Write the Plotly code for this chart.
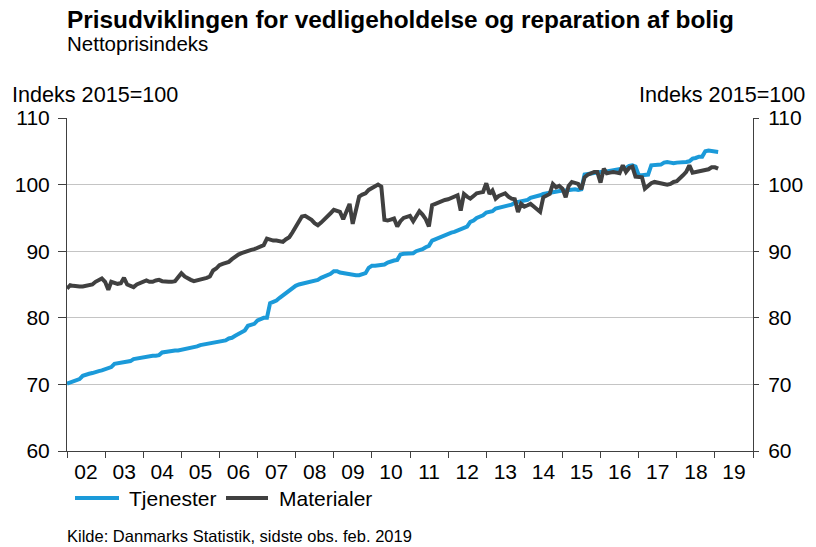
import pandas as pd
import plotly.graph_objects as go

# Monthly values, Jan 2002 - Feb 2019 (Indeks 2015=100)
tjenester_by_year = {
    2002: [70.1, 70.3, 70.4, 70.7, 70.8, 71.3, 71.5, 71.6, 71.7, 71.9, 72.0, 72.1],
    2003: [72.3, 72.4, 72.6, 73.1, 73.2, 73.3, 73.4, 73.5, 73.5, 73.8, 73.9, 74.0],
    2004: [74.1, 74.2, 74.3, 74.3, 74.3, 74.4, 74.8, 74.9, 74.9, 75.0, 75.1, 75.1],
    2005: [75.2, 75.2, 75.3, 75.5, 75.6, 75.7, 75.9, 76.0, 76.0, 76.1, 76.2, 76.3],
    2006: [76.4, 76.5, 76.6, 76.9, 77.0, 77.3, 77.6, 77.9, 78.1, 78.8, 79.0, 79.1],
    2007: [79.6, 79.9, 80.0, 80.0, 82.2, 82.4, 82.6, 83.0, 83.4, 83.6, 84.1, 84.5],
    2008: [84.8, 85.0, 85.1, 85.2, 85.3, 85.5, 85.6, 85.7, 86.0, 86.2, 86.4, 86.6],
    2009: [87.0, 87.0, 86.8, 86.7, 86.6, 86.5, 86.4, 86.4, 86.4, 86.6, 86.7, 87.5],
    2010: [87.8, 87.8, 87.9, 87.9, 88.0, 88.3, 88.5, 88.6, 88.7, 89.5, 89.6, 89.6],
    2011: [89.6, 89.7, 90.0, 90.1, 90.3, 90.6, 90.8, 91.6, 91.8, 92.0, 92.3, 92.4],
    2012: [92.6, 92.8, 92.9, 93.1, 93.2, 93.5, 93.7, 94.4, 94.6, 95.0, 95.2, 95.4],
    2013: [95.8, 95.9, 96.0, 96.4, 96.5, 96.6, 96.8, 96.9, 97.0, 97.3, 97.4, 97.5],
    2014: [97.6, 97.7, 98.0, 98.1, 98.3, 98.4, 98.6, 98.7, 98.8, 98.9, 99.0, 99.0],
    2015: [99.1, 99.1, 99.2, 99.3, 99.3, 99.2, 99.3, 101.5, 101.6, 101.7, 101.8, 101.9],
    2016: [101.9, 101.9, 102.0, 102.1, 102.1, 102.2, 102.4, 102.4, 102.5, 102.8, 102.9, 102.7],
    2017: [101.4, 101.4, 101.4, 101.5, 102.9, 102.9, 102.9, 103.0, 103.3, 103.4, 103.3, 103.2],
    2018: [103.3, 103.3, 103.4, 103.4, 103.5, 103.9, 104.0, 104.2, 104.2, 105.0, 105.1, 105.0],
    2019: [104.9, 104.9],
}

materialer_by_year = {
    2002: [84.4, 84.9, 84.8, 84.7, 84.7, 84.7, 84.8, 84.9, 85.0, 85.4, 85.6, 85.9],
    2003: [85.4, 84.2, 85.4, 85.3, 85.1, 85.2, 86.0, 85.0, 84.8, 84.6, 85.0, 85.2],
    2004: [85.5, 85.6, 85.4, 85.4, 85.6, 85.7, 85.5, 85.4, 85.4, 85.4, 85.5, 86.1],
    2005: [86.7, 86.2, 85.9, 85.7, 85.5, 85.6, 85.8, 85.9, 86.0, 86.2, 87.1, 87.4],
    2006: [87.9, 88.1, 88.3, 88.4, 88.8, 89.2, 89.5, 89.7, 89.9, 90.1, 90.2, 90.3],
    2007: [90.5, 90.6, 90.9, 91.9, 91.7, 91.6, 91.6, 91.5, 91.4, 91.8, 92.1, 92.8],
    2008: [93.7, 94.5, 95.2, 95.3, 95.0, 94.7, 94.2, 93.9, 94.3, 94.7, 95.2, 95.7],
    2009: [96.2, 96.0, 95.9, 94.8, 96.0, 97.1, 94.1, 96.5, 98.2, 98.5, 98.7, 99.2],
    2010: [99.5, 99.8, 100.0, 99.7, 94.7, 94.6, 94.8, 94.9, 93.7, 94.5, 95.0, 95.1],
    2011: [95.3, 94.5, 95.2, 96.0, 95.5, 94.8, 93.7, 96.9, 97.1, 97.3, 97.6, 97.7],
    2012: [97.8, 98.0, 98.3, 98.4, 96.1, 98.6, 98.2, 97.9, 98.3, 98.7, 98.8, 98.9],
    2013: [100.2, 98.6, 99.1, 97.9, 98.3, 98.5, 98.7, 98.2, 97.9, 97.8, 95.9, 97.1],
    2014: [96.7, 96.9, 97.1, 96.7, 96.3, 95.9, 98.1, 98.4, 98.6, 100.1, 99.6, 99.8],
    2015: [99.4, 98.1, 99.8, 100.4, 100.2, 100.1, 99.3, 101.1, 101.5, 101.7, 101.9, 101.9],
    2016: [100.3, 102.4, 101.7, 101.8, 101.9, 101.8, 101.7, 102.9, 101.9, 102.5, 102.7, 101.2],
    2017: [101.2, 101.1, 99.4, 99.9, 100.2, 100.4, 100.3, 100.2, 100.1, 100.0, 100.1, 100.4],
    2018: [100.5, 100.9, 101.4, 101.9, 102.9, 101.8, 101.9, 102.1, 102.2, 102.2, 102.3, 102.6],
    2019: [102.6, 102.4],
}

series_names = ["Tjenester", "Materialer"]
y_ticks = [60, 70, 80, 90, 100, 110]

tjenester = [v for y in sorted(tjenester_by_year) for v in tjenester_by_year[y]]
materialer = [v for y in sorted(materialer_by_year) for v in materialer_by_year[y]]
months = pd.date_range("2002-01-01", periods=len(tjenester), freq="MS")

FONT = "Liberation Sans, Arial, sans-serif"
BLUE = "#1B9AD9"
GRAY = "#404040"
AXC = "#404040"

# plot area in pixels: x 67..753, y 118..451
L, R, T, B = 67, 753, 118, 451
W, H = R - L, B - T


def px(x):
    return (x - L) / W


def py(y):
    return (B - y) / H


fig = go.Figure()
fig.add_trace(go.Scatter(x=months, y=tjenester, mode="lines", name=series_names[0],
                         line=dict(color=BLUE, width=4), showlegend=False))
fig.add_trace(go.Scatter(x=months, y=materialer, mode="lines", name=series_names[1],
                         line=dict(color=GRAY, width=4), yaxis="y2", showlegend=False))

tickfont = dict(family=FONT, size=21, color="#000")

fig.update_layout(
    width=816, height=547,
    margin=dict(l=L, r=816 - R, t=T, b=547 - B, autoexpand=False),
    paper_bgcolor="white", plot_bgcolor="white",
    font=dict(family=FONT, color="#000"),
    showlegend=False,
    xaxis=dict(type="date", range=["2002-01-01", "2020-01-01"], dtick="M12",
               tick0="2002-01-01", tickformat="%y", ticklabelmode="period",
               ticks="outside", ticklen=6, tickcolor=AXC,
               showline=True, linecolor=AXC, linewidth=1, showgrid=False,
               tickfont=tickfont, ticklabelstandoff=-4, automargin=False),
    yaxis=dict(side="left", range=[60, 110], tickvals=y_ticks, ticks="outside", ticklen=8,
               tickcolor=AXC, showline=True, linecolor=AXC, linewidth=1,
               showgrid=True, gridcolor="#C4C4C4", gridwidth=1, zeroline=False,
               tickfont=tickfont, ticklabelstandoff=4, automargin=False),
    yaxis2=dict(side="right", overlaying="y", range=[60, 110], tickvals=y_ticks,
                ticks="outside", ticklen=5, tickcolor=AXC, showline=True, linecolor=AXC,
                linewidth=1, showgrid=False, zeroline=False, tickfont=tickfont,
                ticklabelstandoff=5, automargin=False),
)

# manual legend
legend_items = [(series_names[0], BLUE, 75, 119, 128), (series_names[1], GRAY, 226, 268, 278)]
for name, col, x0, x1, xt in legend_items:
    fig.add_shape(type="line", xref="paper", yref="paper", x0=px(x0), x1=px(x1),
                  y0=py(498), y1=py(498), line=dict(color=col, width=4))
    fig.add_annotation(text=name, xref="paper", yref="paper", x=px(xt), y=py(498),
                       xanchor="left", yanchor="middle", showarrow=False,
                       font=dict(family=FONT, size=21, color="#000"), borderpad=0)

texts = [
    ("<b>Prisudviklingen for vedligeholdelse og reparation af bolig</b>", 66, 20, "left", 24.4),
    ("Nettoprisindeks", 66, 44, "left", 20.5),
    ("Indeks 2015=100", 11, 94, "left", 21.6),
    ("Indeks 2015=100", 806, 94, "right", 21.6),
    ("Kilde: Danmarks Statistik, sidste obs. feb. 2019", 66, 536, "left", 16.5),
]
for txt, x, y, anchor, size in texts:
    fig.add_annotation(text=txt, xref="paper", yref="paper", x=px(x), y=py(y),
                       xanchor=anchor, yanchor="middle", showarrow=False, borderpad=0,
                       font=dict(family=FONT, size=size, color="#000"))

fig.write_html("out.html", config={"displayModeBar": False},
               post_script="document.body.style.margin='0px';")
